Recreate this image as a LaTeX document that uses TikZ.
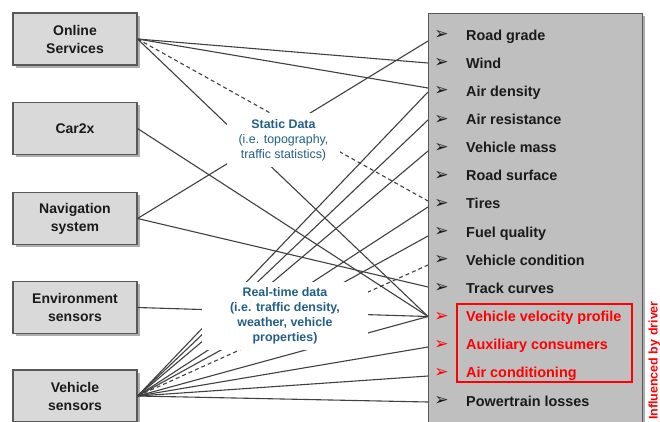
\documentclass[tikz,border=0pt]{standalone}
\usepackage{fontspec}
\setmainfont{Liberation Sans}
\newfontfamily\djv{DejaVu Sans}
\usetikzlibrary{shadows}
\definecolor{boxline}{HTML}{595959}
\definecolor{boxfill}{HTML}{D9D9D9}
\definecolor{rbfill}{HTML}{BFBFBF}
\definecolor{lnc}{HTML}{404040}
\definecolor{lblue}{RGB}{35,95,135}
\definecolor{itemred}{HTML}{FF0000}
\definecolor{itemblk}{HTML}{1A1A1A}
\begin{document}
\begin{tikzpicture}[x=1pt,y=-1pt,
  shad/.style={drop shadow={shadow xshift=2.5pt,shadow yshift=-2.5pt,fill=black!45,opacity=.7}},
  src/.style={draw=boxline,fill=boxfill,line width=1.1pt,minimum width=124pt,minimum height=52pt,
    inner sep=0pt,align=center,font=\fontsize{14}{18}\selectfont\bfseries,text=itemblk,shad},
  conn/.style={draw=lnc,line width=1.1pt},
  dconn/.style={conn,dash pattern=on 4pt off 3pt},
  lbl/.style={fill=white,inner sep=0pt,align=center,text=lblue,font=\fontsize{12.4}{15}\selectfont},
  item/.style={anchor=base west,inner sep=0pt,font=\fontsize{14.4}{16}\selectfont\bfseries,text=itemblk},
  ritem/.style={item,text=itemred},
  bul/.style={inner sep=0pt,anchor=center,font=\djv\fontsize{17}{17}\selectfont,text=itemblk},
  rbul/.style={bul,text=itemred}]
\useasboundingbox (0,0) rectangle (660,421);

% right box
\node[draw=boxline,fill=rbfill,line width=1.1pt,minimum width=214pt,minimum height=430pt,
  inner sep=0pt,anchor=north west,shad] (rb) at (428,13) {};

% source boxes
\node[src] (os)  at (75,39)    {Online\\Services};
\node[src] (c2x) at (75,128.5) {Car2x};
\node[src] (nav) at (75,218.5) {Navigation\\system};
\node[src] (env) at (75,307.5) {Environment\\sensors};
\node[src] (vs)  at (75,396)   {Vehicle\\sensors};

% items
\foreach \n/\y/\t in {i1/35/Road grade, i2/63.2/Wind, i3/91.3/Air density, i4/119.5/Air resistance,
  i5/147.6/Vehicle mass, i6/175.8/Road surface, i7/203.9/Tires, i8/232.1/Fuel quality,
  i9/260.2/Vehicle condition, i10/288.4/Track curves, i14/401/Powertrain losses}{
  \node[item] (\n) at (466,\y+5) {\t};
  \node[bul] (b\n) at (441.5,\y) {➢};
}
\foreach \n/\y/\t in {i11/316.5/Vehicle velocity profile, i12/344.7/Auxiliary consumers, i13/372.8/Air conditioning}{
  \node[ritem] (\n) at (466,\y+5) {\t};
  \node[rbul] (b\n) at (441.5,\y) {➢};
}
\node[draw=itemred,line width=1.8pt,minimum width=175pt,minimum height=78pt,inner sep=0pt] (redbox) at (544.5,343) {};
\node[rotate=90,anchor=base east,inner sep=0pt,text=itemred,font=\fontsize{12.5}{14}\selectfont\bfseries] (drv) at (657.5,301) {Influenced by driver};

% end points on the right box
\coordinate (pRoad) at (428,41);
\coordinate (pWind) at (428,63);
\coordinate (pAirD) at (428,88);
\coordinate (pAirD2) at (428,92);
\coordinate (pAirR) at (428,120);
\coordinate (pMass) at (428,151);
\coordinate (pTiresD) at (428,201);
\coordinate (pTires) at (428,207);
\coordinate (pFuel) at (428,236);
\coordinate (pCond) at (428,265);
\coordinate (pTrack) at (428,287);
\coordinate (pVel) at (428,316.5);
\coordinate (pAux) at (428,347);
\coordinate (pAC) at (428,376);
\coordinate (pPT) at (428,402);

% connectors
\draw[conn] (os.east) -- (pWind);
\draw[conn] (os.east) -- (pAirD);
\draw[dconn] (os.east) -- (pTiresD);
\draw[conn] (os.east) -- (pVel);
\draw[conn] (c2x.east) -- (pVel);
\draw[conn] (nav.east) -- (pRoad);
\draw[conn] (nav.east) -- (pTrack);
\draw[conn] (env.east) -- (pVel);
\draw[conn] (vs.east) -- (pAirD2);
\draw[conn] (vs.east) -- (pAirR);
\draw[conn] (vs.east) -- (pMass);
\draw[conn] (vs.east) -- (pTires);
\draw[conn] (vs.east) -- (pFuel);
\draw[dconn] (vs.east) -- (pCond);
\draw[conn] (vs.east) -- (pVel);
\draw[conn] (vs.east) -- (pAux);
\draw[conn] (vs.east) -- (pAC);
\draw[conn] (vs.east) -- (pPT);

% labels (white boxes hide the lines behind them)
\node[lbl,minimum width=113pt,minimum height=54pt] (static) at (283.5,140)
  {\textbf{Static Data}\\(i.e. topography,\\traffic statistics)};
\node[lbl,minimum width=166pt,minimum height=68pt,font=\fontsize{12.4}{15}\selectfont\bfseries] (rt) at (285,316)
  {Real-time data\\(i.e. traffic density,\\weather, vehicle\\properties)};
\end{tikzpicture}
\end{document}
